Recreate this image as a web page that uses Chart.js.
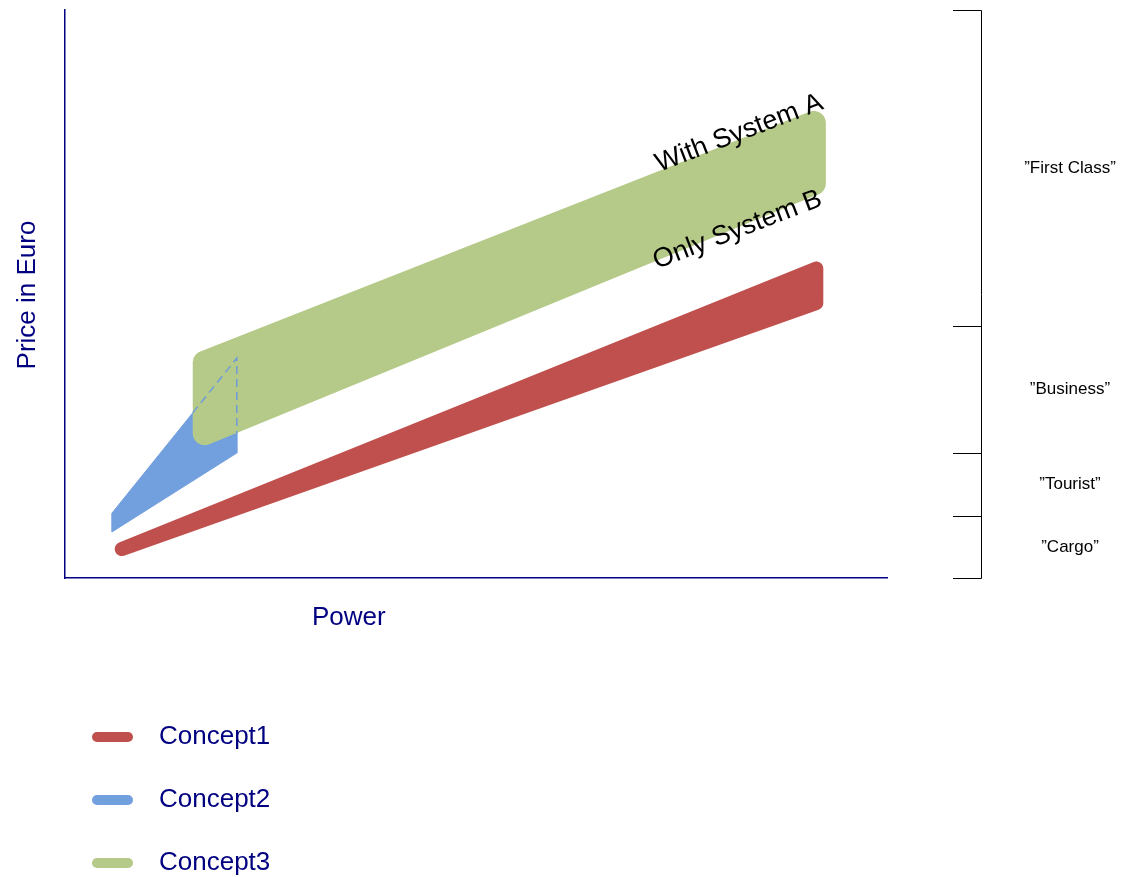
<!DOCTYPE html>
<html>
<head>
<meta charset="utf-8">
<title>Concept positioning</title>
<script src="https://cdn.jsdelivr.net/npm/chart.js@4.4.1/dist/chart.umd.min.js"></script>
<style>
  html, body { margin: 0; padding: 0; background: #ffffff; }
  #wrap { position: relative; width: 1124px; height: 877px; font-family: 'Liberation Sans', Arial, sans-serif; }
  #wrap canvas { position: absolute; left: 0; top: 0; }
  .legend-item { position: absolute; left: 92px; height: 40px; display: flex; align-items: center;
                 color: #000080; font-size: 26px; line-height: 40px; white-space: nowrap; }
  .legend-swatch { width: 41px; height: 10px; border-radius: 5px; margin-right: 26px; }
  .legend-text { position: relative; top: -1.5px; }
</style>
</head>
<body>
<div id="wrap">
  <canvas id="chart" width="1124" height="877"></canvas>
  <div id="legend"></div>
</div>
<script>
// Each concept is a price band (low..high) at the start and end of its power span.
const concept1Power = [6.9, 91.4];
const concept1Low   = [5.1, 48.4];
const concept1High  = [5.1, 54.5];

const concept2Power = [5.7, 20.9];
const concept2Low   = [8.1, 22.0];
const concept2High  = [11.4, 38.7];

const concept3Power = [17.0, 91.1];
const concept3Low   = [25.5, 69.5];
const concept3High  = [37.9, 80.1];

const seriesNames = ['Concept1', 'Concept2', 'Concept3'];

// Market segments along the price axis
const tierBounds = [0, 10.9, 22.0, 44.4, 100];
const tierLabels = ['\u201DCargo\u201D', '\u201DTourist\u201D', '\u201DBusiness\u201D', '\u201DFirst Class\u201D'];

// Text written along the Concept3 band
const bandNotes = [
  { text: 'With System A', at: { power: 72.3, price: 71.5 } },
  { text: 'Only System B', at: { power: 72.0, price: 54.4 } }
];

const NAVY = '#000080';
const RED = '#C0504D';
const BLUE = '#729FDD';
const GREEN = '#B5CA88';
const FONT = "'Liberation Sans', Arial, sans-serif";

// Plot area is 822 x 568 px for 100 x 100 axis units
const UNIT_X = 100 / 822;
const UNIT_Y = 100 / 568;
const CONCEPT3_ROUND = 12; // half of the Concept3 stroke width, px

function band(power, low, high) {
  return [
    { x: power[0], y: high[0] },
    { x: power[1], y: high[1] },
    { x: power[1], y: low[1] },
    { x: power[0], y: low[0] },
    { x: power[0], y: high[0] }
  ];
}

function lerp(a, b, t) { return a + (b - a) * t; }

// Part of the Concept2 outline that lies underneath Concept3
const reachX = CONCEPT3_ROUND * UNIT_X;
const reachY = CONCEPT3_ROUND * 1.08 * UNIT_Y;
const edgeLeft = concept3Power[0] - reachX;
const tTop = (edgeLeft - concept2Power[0]) / (concept2Power[1] - concept2Power[0]);
const tBottom = (concept2Power[1] - concept3Power[0]) / (concept3Power[1] - concept3Power[0]);
const hiddenEdge = [
  { x: edgeLeft, y: lerp(concept2High[0], concept2High[1], tTop) },
  { x: concept2Power[1], y: concept2High[1] },
  { x: concept2Power[1], y: lerp(concept3Low[0], concept3Low[1], tBottom) - reachY }
];

const shapeDefaults = { fill: 'shape', pointRadius: 0, pointHoverRadius: 0, tension: 0,
                        borderJoinStyle: 'round', borderCapStyle: 'round' };

const decorations = {
  id: 'decorations',
  afterDatasetsDraw(chart) {
    const { ctx, chartArea, scales: { x, y } } = chart;
    ctx.save();

    // Axis titles
    ctx.fillStyle = NAVY;
    ctx.font = `26px ${FONT}`;
    ctx.textBaseline = 'alphabetic';
    ctx.textAlign = 'left';
    ctx.fillText('Power', chartArea.left + 247, chartArea.bottom + 47);
    ctx.save();
    ctx.translate(chartArea.left - 30, (chartArea.top + chartArea.bottom) / 2 + 1);
    ctx.rotate(-Math.PI / 2);
    ctx.textAlign = 'center';
    ctx.fillText('Price in Euro', 0, 0);
    ctx.restore();

    // Notes along the Concept3 band
    ctx.fillStyle = '#000000';
    ctx.font = `27px ${FONT}`;
    bandNotes.forEach(n => {
      ctx.save();
      ctx.translate(x.getPixelForValue(n.at.power), y.getPixelForValue(n.at.price));
      ctx.rotate(-21 * Math.PI / 180);
      ctx.textAlign = 'left';
      ctx.fillText(n.text, 0, 0);
      ctx.restore();
    });

    // Segment bracket on the right
    const lineX = 981.5, tickX = 953;
    ctx.strokeStyle = '#000000';
    ctx.lineWidth = 1;
    ctx.beginPath();
    ctx.moveTo(lineX, Math.round(y.getPixelForValue(tierBounds[tierBounds.length - 1])) + 0.5);
    ctx.lineTo(lineX, Math.round(y.getPixelForValue(tierBounds[0])) + 0.5);
    tierBounds.forEach(b => {
      const py = Math.round(y.getPixelForValue(b)) + 0.5;
      ctx.moveTo(tickX, py);
      ctx.lineTo(lineX, py);
    });
    ctx.stroke();

    ctx.font = `17px ${FONT}`;
    ctx.textAlign = 'center';
    ctx.textBaseline = 'middle';
    tierLabels.forEach((t, i) => {
      const py = (y.getPixelForValue(tierBounds[i]) + y.getPixelForValue(tierBounds[i + 1])) / 2;
      ctx.fillText(t, 1070, py);
    });

    ctx.restore();
  }
};

const chart = new Chart(document.getElementById('chart'), {
  type: 'line',
  data: {
    datasets: [
      Object.assign({}, shapeDefaults, {
        label: seriesNames[0], data: band(concept1Power, concept1Low, concept1High),
        borderColor: RED, backgroundColor: RED, borderWidth: 14, order: 2
      }),
      Object.assign({}, shapeDefaults, {
        label: seriesNames[1], data: band(concept2Power, concept2Low, concept2High),
        borderColor: BLUE, backgroundColor: BLUE, borderWidth: 1,
        borderJoinStyle: 'miter', borderCapStyle: 'butt', order: 3
      }),
      Object.assign({}, shapeDefaults, {
        label: seriesNames[2], data: band(concept3Power, concept3Low, concept3High),
        borderColor: GREEN, backgroundColor: GREEN, borderWidth: 24, order: 1
      }),
      {
        label: '', data: hiddenEdge, fill: false, pointRadius: 0, pointHoverRadius: 0, tension: 0,
        borderColor: '#6E9BDA', borderWidth: 1.5, borderDash: [8, 5], order: 0
      }
    ]
  },
  options: {
    responsive: false,
    animation: false,
    events: [],
    layout: { padding: { left: 65, top: 10, right: 237, bottom: 299 } },
    scales: {
      x: {
        type: 'linear', min: 0, max: 100,
        grid: { display: false, drawTicks: false },
        ticks: { display: false },
        border: { display: true, color: NAVY, width: 1.5 }
      },
      y: {
        type: 'linear', min: 0, max: 100,
        grid: { display: false, drawTicks: false },
        ticks: { display: false },
        border: { display: true, color: NAVY, width: 1.5 }
      }
    },
    plugins: { legend: { display: false }, tooltip: { enabled: false } }
  },
  plugins: [decorations]
});

// Vertical legend below the plot, built from the chart's datasets
const legendEl = document.getElementById('legend');
chart.data.datasets.filter(ds => ds.label).forEach((ds, i) => {
  const item = document.createElement('div');
  item.className = 'legend-item';
  item.style.top = (736.5 + i * 63 - 20) + 'px';
  const sw = document.createElement('span');
  sw.className = 'legend-swatch';
  sw.style.background = ds.backgroundColor;
  const tx = document.createElement('span');
  tx.className = 'legend-text';
  tx.textContent = ds.label;
  item.appendChild(sw);
  item.appendChild(tx);
  legendEl.appendChild(item);
});
</script>
</body>
</html>
